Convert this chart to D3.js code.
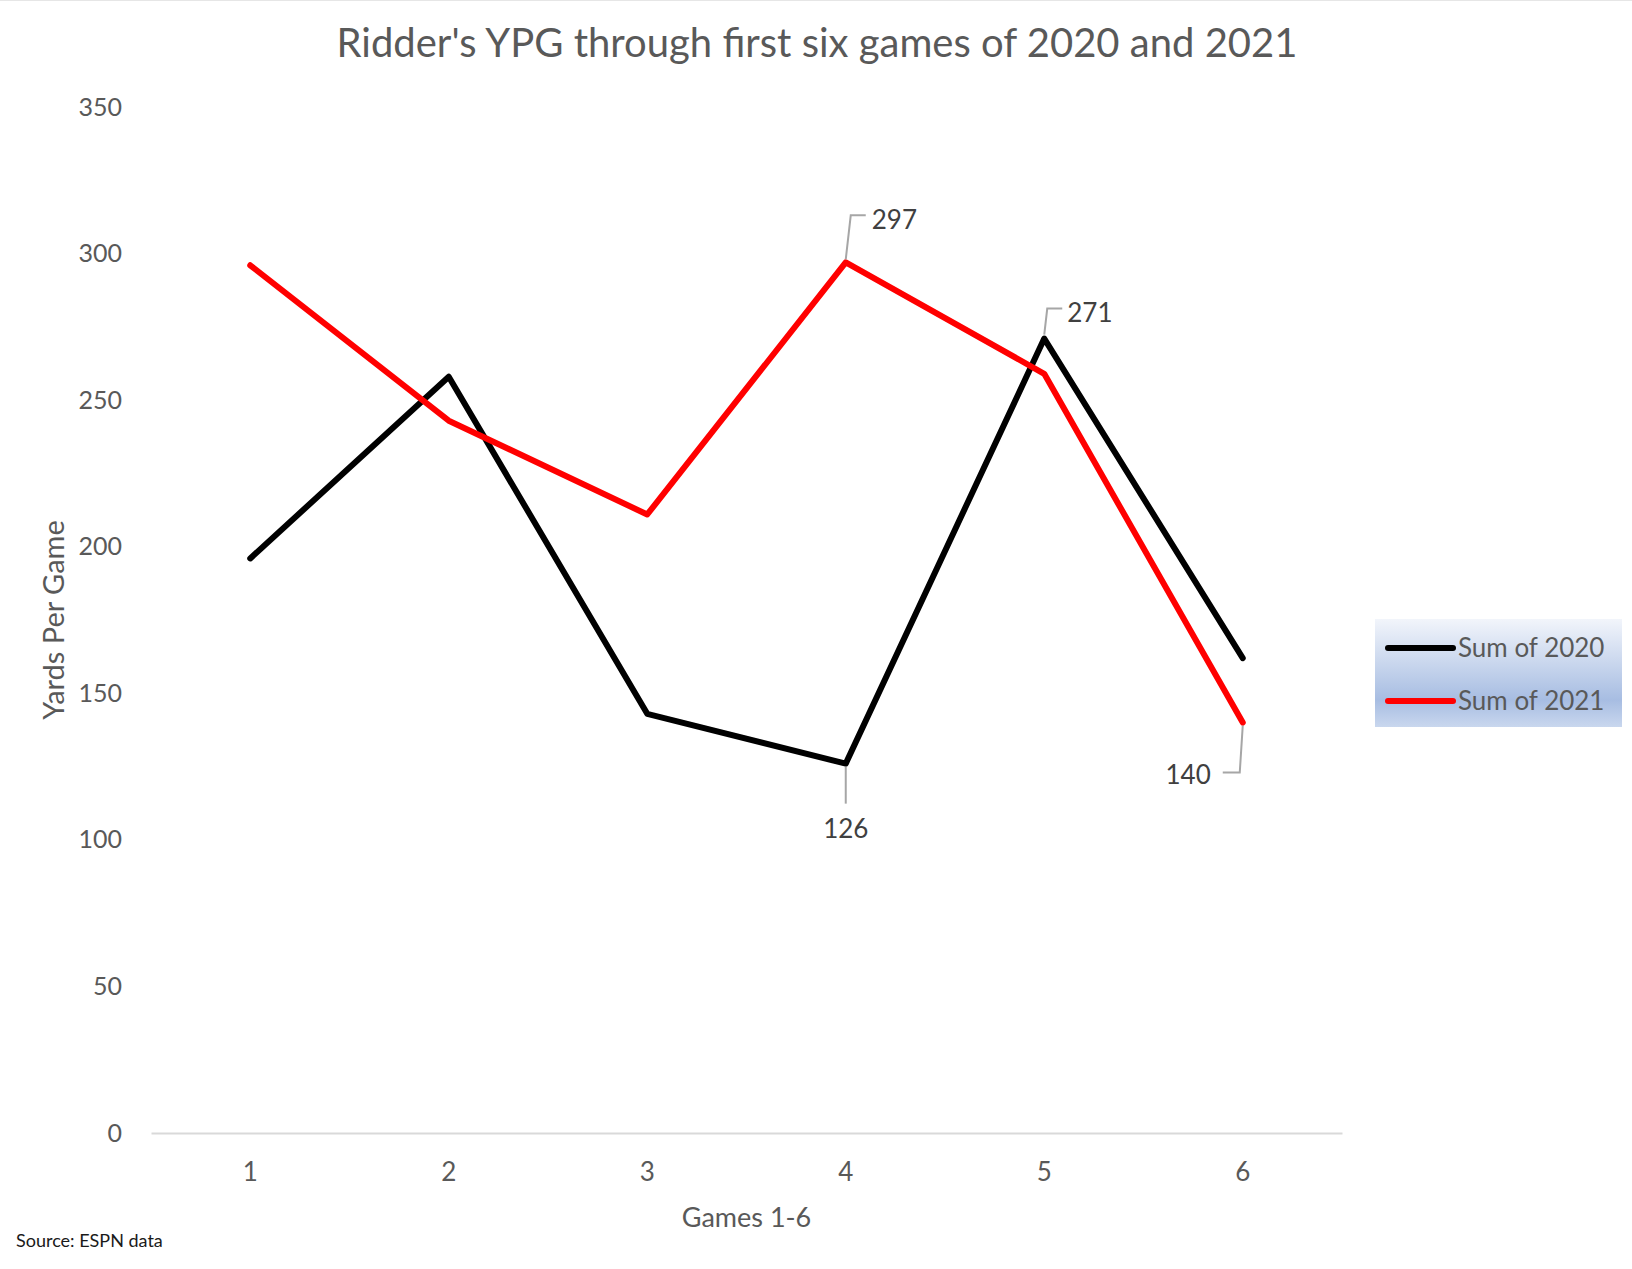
<!DOCTYPE html>
<html>
<head>
<meta charset="utf-8">
<script src="https://cdn.jsdelivr.net/npm/d3@7"></script>
<style>
  body { margin: 0; background: #fff; }
  svg { display: block; font-family: Lato, "Open Sans", sans-serif; }
</style>
</head>
<body>
<script>
// Ridder's yards per game, first six games
const games = ['1', '2', '3', '4', '5', '6'];
const ypg2020 = [196, 258, 143, 126, 271, 162];
const ypg2021 = [296, 243, 211, 297, 259, 140];
const yTicks = [0, 50, 100, 150, 200, 250, 300, 350];
const seriesNames = ['Sum of 2020', 'Sum of 2021'];
const seriesColors = ['#000000', '#ff0000'];
// which points carry a data label: [series index, game index, placement]
const labelled = [[1, 3, 'upRight'], [0, 4, 'upRightShort'], [0, 3, 'down'], [1, 5, 'downLeft']];

const W = 1632, H = 1269;
const plot = {left: 151, right: 1342, top: 107, bottom: 1133};

const svg = d3.select('body').append('svg')
    .attr('width', W)
    .attr('height', H);

svg.append('rect').attr('width', W).attr('height', H).attr('fill', '#fff');
svg.append('line')
    .attr('x1', 0).attr('x2', W).attr('y1', 0.5).attr('y2', 0.5)
    .attr('stroke', '#e6e6e6');

// Scales
const x = d3.scaleBand().domain(games).range([plot.left, plot.right]);
const y = d3.scaleLinear().domain([0, 350]).range([plot.bottom, plot.top]);
const cx = g => x(g) + x.bandwidth() / 2;

// Title
svg.append('text')
    .attr('x', 817).attr('y', 57)
    .attr('text-anchor', 'middle')
    .attr('font-size', 40)
    .attr('fill', '#595959')
    .text("Ridder's YPG through first six games of 2020 and 2021");

// Y axis (labels only)
const yAxis = svg.append('g')
    .attr('transform', 'translate(' + plot.left + ',0)')
    .call(d3.axisLeft(y).tickValues(yTicks).tickSize(0).tickPadding(29));
yAxis.select('.domain').remove();
yAxis.selectAll('text')
    .attr('font-size', 25)
    .attr('font-family', 'Lato, "Open Sans", sans-serif')
    .attr('fill', '#595959');

// X axis
const xAxis = svg.append('g')
    .attr('transform', 'translate(0,' + plot.bottom + ')')
    .call(d3.axisBottom(x).tickSize(0).tickPadding(30));
xAxis.select('.domain')
    .attr('stroke', '#d9d9d9')
    .attr('stroke-width', 2);
xAxis.selectAll('text')
    .attr('font-size', 26)
    .attr('font-family', 'Lato, "Open Sans", sans-serif')
    .attr('fill', '#595959');

// Axis titles
svg.append('text')
    .attr('x', (plot.left + plot.right) / 2).attr('y', 1227)
    .attr('text-anchor', 'middle')
    .attr('font-size', 27)
    .attr('fill', '#595959')
    .text('Games 1-6');

svg.append('text')
    .attr('transform', 'translate(64,' + (plot.top + plot.bottom) / 2 + ') rotate(-90)')
    .attr('text-anchor', 'middle')
    .attr('font-size', 29)
    .attr('fill', '#595959')
    .text('Yards Per Game');

svg.append('text')
    .attr('x', 16).attr('y', 1247)
    .attr('font-size', 18)
    .attr('fill', '#1a1a1a')
    .text('Source: ESPN data');

// Lines
const series = [ypg2020, ypg2021];
const line = d3.line()
    .x((d, i) => cx(games[i]))
    .y(d => y(d));

svg.selectAll('path.series')
    .data(series)
    .enter().append('path')
    .attr('class', 'series')
    .attr('d', d => line(d))
    .attr('fill', 'none')
    .attr('stroke', (d, i) => seriesColors[i])
    .attr('stroke-width', 6)
    .attr('stroke-linejoin', 'round')
    .attr('stroke-linecap', 'round');

// Data labels with leader lines
const labels = svg.append('g');
labelled.forEach(([s, gi, place]) => {
    const v = series[s][gi];
    const px = cx(games[gi]), py = y(v);
    let pts, tx, ty, anchor;
    if (place === 'upRight') {
        pts = [[px, py - 3], [px + 5, py - 47], [px + 20, py - 47]];
        tx = px + 26; ty = py - 33; anchor = 'start';
    } else if (place === 'upRightShort') {
        pts = [[px, py - 4], [px + 3, py - 30], [px + 18, py - 30]];
        tx = px + 23; ty = py - 17; anchor = 'start';
    } else if (place === 'down') {
        pts = [[px, py + 3], [px, py + 40]];
        tx = px; ty = py + 74; anchor = 'middle';
    } else {
        pts = [[px, py + 3], [px - 3, py + 50], [px - 20, py + 50]];
        tx = px - 32; ty = py + 61; anchor = 'end';
    }
    labels.append('path')
        .attr('d', d3.line()(pts))
        .attr('fill', 'none')
        .attr('stroke', '#a6a6a6')
        .attr('stroke-width', 2);
    labels.append('text')
        .attr('x', tx).attr('y', ty)
        .attr('text-anchor', anchor)
        .attr('font-size', 26)
        .attr('fill', '#404040')
        .text(v);
});

// Legend
const defs = svg.append('defs');
const grad = defs.append('linearGradient')
    .attr('id', 'legendFill')
    .attr('x1', 0).attr('y1', 0).attr('x2', 0).attr('y2', 1);
grad.append('stop').attr('offset', '0%').attr('stop-color', '#f2f5fb');
grad.append('stop').attr('offset', '75%').attr('stop-color', '#a7bde2');
grad.append('stop').attr('offset', '100%').attr('stop-color', '#c9d7ee');

const legend = svg.append('g').attr('transform', 'translate(1375,619)');
legend.append('rect')
    .attr('width', 247).attr('height', 108)
    .attr('fill', 'url(#legendFill)');

const item = legend.selectAll('g.item')
    .data(seriesNames)
    .enter().append('g')
    .attr('class', 'item')
    .attr('transform', (d, i) => 'translate(0,' + (29 + i * 53) + ')');
item.append('line')
    .attr('x1', 13).attr('x2', 78)
    .attr('stroke', (d, i) => seriesColors[i])
    .attr('stroke-width', 6)
    .attr('stroke-linecap', 'round');
item.append('text')
    .attr('x', 83).attr('y', 9)
    .attr('font-size', 26)
    .attr('fill', '#595959')
    .text(d => d);
</script>
</body>
</html>
